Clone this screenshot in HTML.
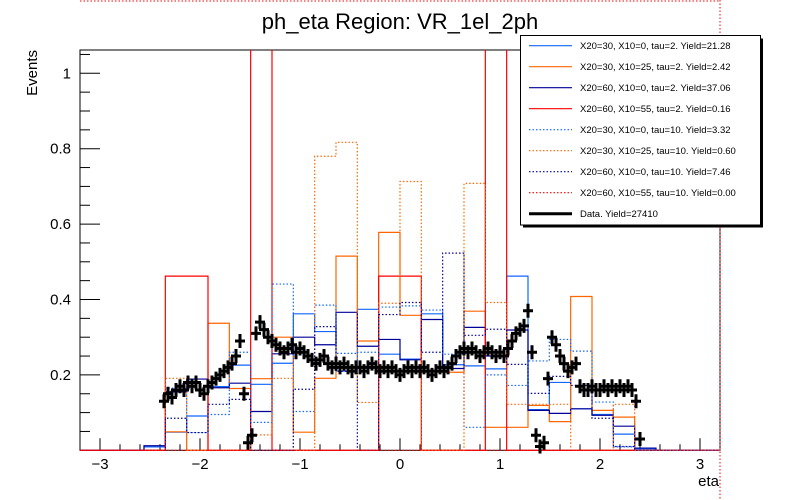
<!DOCTYPE html>
<html><head><meta charset="utf-8"><style>
body{margin:0;background:#fff;}
svg{display:block;font-family:"Liberation Sans",Arial,sans-serif;}
</style></head><body>
<svg id="c" width="800" height="500" viewBox="0 0 800 500">
<rect x="0" y="0" width="800" height="500" fill="#fff"/>
<text x="400" y="29" text-anchor="middle" font-size="22" fill="#000">ph_eta Region: VR_1el_2ph</text>
<text x="0" y="0" transform="translate(37,50) rotate(-90)" text-anchor="end" font-size="15" fill="#000">Events</text>
<text x="719" y="486" text-anchor="end" font-size="15" fill="#000">eta</text>
<defs><clipPath id="fr"><rect x="80" y="50" width="640" height="401"/></clipPath></defs>
<g id="axes"></g>
<g id="hists" clip-path="url(#fr)"></g>
<g id="datag"></g>
<g id="legend"></g>
</svg>
<script>
const nBins = 30;
const xMin = -3.2, xMax = 3.2;
const seriesNames = ["X20=30, X10=0, tau=2. Yield=21.28","X20=30, X10=25, tau=2. Yield=2.42","X20=60, X10=0, tau=2. Yield=37.06","X20=60, X10=55, tau=2. Yield=0.16","X20=30, X10=0, tau=10. Yield=3.32","X20=30, X10=25, tau=10. Yield=0.60","X20=60, X10=0, tau=10. Yield=7.46","X20=60, X10=55, tau=10. Yield=0.00"];
const s1 = [0,0,0,0.009,0.048,0.091,0.169,0.226,0.175,0.231,0.362,0.315,0.21,0.374,0.255,0.242,0.362,0.227,0.224,0.216,0.462,0.108,0.18,0.11,0.095,0.043,0.004,0,0,0];
const s2 = [0,0,0,0,0.049,0,0.337,0.164,0.19,0.30,0.048,0.191,0.515,0.29,0.578,0.358,0.21,0.207,0.369,0.061,0.061,0.119,0.076,0.408,0.106,0.088,0,0,0,0];
const s3 = [0,0,0,0.012,0.155,0.189,0.166,0.178,0.103,0.256,0.30,0.28,0.366,0.276,0.294,0.24,0.347,0.217,0.326,0.25,0.319,0.106,0.098,0.11,0.093,0.064,0.006,0,0,0];
const s4 = [0,0,0,0,0.462,0.462,0,0,2,0,0,0,0,0,0.462,0.462,0,0,0,2,0,0,0,0,0,0,0,0,0,0];
const s5 = [0,0,0,0,0.165,0.047,0.095,0.26,0.074,0.441,0.103,0.385,0.257,0.26,0.38,0.383,0.372,0.255,0.061,0.2,0.172,0.237,0.294,0.263,0.128,0.009,0,0,0,0];
const s6 = [0,0,0,0,0.191,0,0,0,0.041,0.191,0,0.78,0.817,0.127,0.39,0.713,0,0,0.708,0.392,0.122,0.122,0.122,0,0,0.122,0,0,0,0];
const s7 = [0,0,0,0,0.085,0.047,0.122,0.135,0,0,0.162,0.328,0.21,0,0.36,0.392,0.26,0.523,0.305,0.321,0.228,0.151,0.196,0.172,0.085,0.01,0,0,0,0];
const s8 = [0,0,0,0,0,0,0,0,0,0,0,0,0,0,0,0,0,0,0,0,0,0,0,0,0,0,0,0,0,0];
const dataEta = [-2.36,-2.32,-2.28,-2.24,-2.20,-2.16,-2.12,-2.08,-2.04,-2.00,-1.96,-1.92,-1.88,-1.84,-1.80,-1.76,-1.72,-1.68,-1.64,-1.60,-1.56,-1.52,-1.48,-1.44,-1.40,-1.36,-1.32,-1.28,-1.24,-1.20,-1.16,-1.12,-1.08,-1.04,-1.00,-0.96,-0.92,-0.88,-0.84,-0.80,-0.76,-0.72,-0.68,-0.64,-0.60,-0.56,-0.52,-0.48,-0.44,-0.40,-0.36,-0.32,-0.28,-0.24,-0.20,-0.16,-0.12,-0.08,-0.04,0.00,0.04,0.08,0.12,0.16,0.20,0.24,0.28,0.32,0.36,0.40,0.44,0.48,0.52,0.56,0.60,0.64,0.68,0.72,0.76,0.80,0.84,0.88,0.92,0.96,1.00,1.04,1.08,1.12,1.16,1.20,1.24,1.28,1.32,1.36,1.40,1.44,1.48,1.52,1.56,1.60,1.64,1.68,1.72,1.76,1.80,1.84,1.88,1.92,1.96,2.00,2.04,2.08,2.12,2.16,2.20,2.24,2.28,2.32,2.36,2.40];
const dataVal = [0.13,0.15,0.14,0.16,0.17,0.16,0.18,0.17,0.18,0.16,0.15,0.17,0.18,0.19,0.20,0.21,0.22,0.23,0.25,0.29,0.15,0.02,0.04,0.31,0.34,0.32,0.30,0.29,0.28,0.27,0.26,0.27,0.28,0.26,0.27,0.26,0.25,0.24,0.23,0.24,0.25,0.23,0.22,0.23,0.22,0.23,0.22,0.21,0.22,0.22,0.21,0.22,0.23,0.22,0.21,0.22,0.21,0.22,0.21,0.20,0.21,0.22,0.21,0.22,0.21,0.22,0.21,0.20,0.21,0.22,0.21,0.22,0.23,0.25,0.26,0.27,0.26,0.27,0.26,0.25,0.26,0.27,0.26,0.25,0.26,0.25,0.27,0.29,0.31,0.32,0.33,0.37,0.26,0.04,0.01,0.02,0.19,0.30,0.28,0.25,0.23,0.21,0.22,0.23,0.17,0.16,0.16,0.17,0.16,0.16,0.17,0.16,0.17,0.16,0.17,0.16,0.17,0.16,0.13,0.03];
const xTicks = [-3,-2,-1,0,1,2,3];
const yTicks = [0.2,0.4,0.6,0.8,1];

const NS="http://www.w3.org/2000/svg";
const X0=80,X1=720,Y0=450.3,YS=377;
function sx(v){return X0+(v-xMin)/(xMax-xMin)*(X1-X0);}
function sy(v){return Y0-v*YS;}
function mk(tag,attrs,parent){const e=document.createElementNS(NS,tag);for(const k in attrs)e.setAttribute(k,attrs[k]);parent.appendChild(e);return e;}
const axes=document.getElementById('axes'),hists=document.getElementById('hists'),datag=document.getElementById('datag'),leg=document.getElementById('legend');

let fr=mk('rect',{x:X0,y:50,width:X1-X0,height:400.3,fill:'none',stroke:'#000','stroke-width':1},axes);


for(let v=-3.2;v<=3.21;v+=0.2){
  const major=Math.abs(v-Math.round(v))<0.01;
  const t=mk('line',{x1:sx(v),x2:sx(v),y1:Y0,y2:Y0-(major?12:6),stroke:'#000'},axes);
  
  
}
xTicks.forEach(v=>{
  const t=mk('text',{x:sx(v),y:469,'text-anchor':'middle','font-size':15},axes);t.textContent=(v<0?'\u2212'+(-v):String(v));
  
  
});
for(let i=1;i*0.05<1.062;i++){
  const v=i*0.05,major=i%4===0;
  const t=mk('line',{x1:X0,x2:X0+(major?20:10),y1:sy(v),y2:sy(v),stroke:'#000'},axes);
  
  
}
yTicks.forEach(v=>{
  const t=mk('text',{x:71,y:sy(v)+5,'text-anchor':'end','font-size':15},axes);t.textContent=String(v);
  
  
});

const seriesData=[s1,s2,s3,s4,s5,s6,s7,s8];
const colors=['#1166ff','#ff6600','#000099','#ff0000','#1166ff','#ff6600','#000099','#ff0000'];
const bw=(xMax-xMin)/nBins;
seriesData.forEach((arr,si)=>{
  let d='M'+sx(xMin)+','+sy(0);
  arr.forEach((v,i)=>{const a=sx(xMin+i*bw),b=sx(xMin+(i+1)*bw);d+=' L'+a+','+sy(v)+' L'+b+','+sy(v);});
  d+=' L'+sx(xMax)+','+sy(0);
  const p=mk('path',{d:d,fill:'none',stroke:colors[si],'stroke-width':1.2},hists);
  if(si>=4)p.setAttribute('stroke-dasharray','1.5,2');
  
  
});
let rl=mk('path',{d:'M80,1 L720,1 M720,0 L720,500',fill:'none',stroke:'#ff0000','stroke-dasharray':'1.5,2'},axes);



dataEta.forEach((e,i)=>{
  const x=sx(e),y=sy(dataVal[i]);
  const g=mk('path',{d:'M'+(x-5)+','+y+' L'+(x+5)+','+y+' M'+x+','+(y-7)+' L'+x+','+(y+7),stroke:'#000','stroke-width':3,fill:'none'},datag);
  
  
});

let sh=mk('rect',{x:523,y:38.5,width:240,height:189,fill:'#000'},leg);


let lb=mk('rect',{x:520.5,y:35.5,width:240,height:189.5,fill:'#fff',stroke:'#000'},leg);


const labels=seriesNames.concat(['Data. Yield=27410']);
labels.forEach((t,i)=>{
  const y=45.7+i*21;
  const l=mk('line',{x1:529,x2:572,y1:y,y2:y,stroke:i<8?colors[i]:'#000','stroke-width':i<8?1.2:3},leg);
  if(i>=4&&i<8)l.setAttribute('stroke-dasharray','1.5,2');
  
  
  const tx=mk('text',{x:580,y:y+3.5,'font-size':9.5},leg);tx.textContent=t;
  
  
});
</script>
</body></html>
